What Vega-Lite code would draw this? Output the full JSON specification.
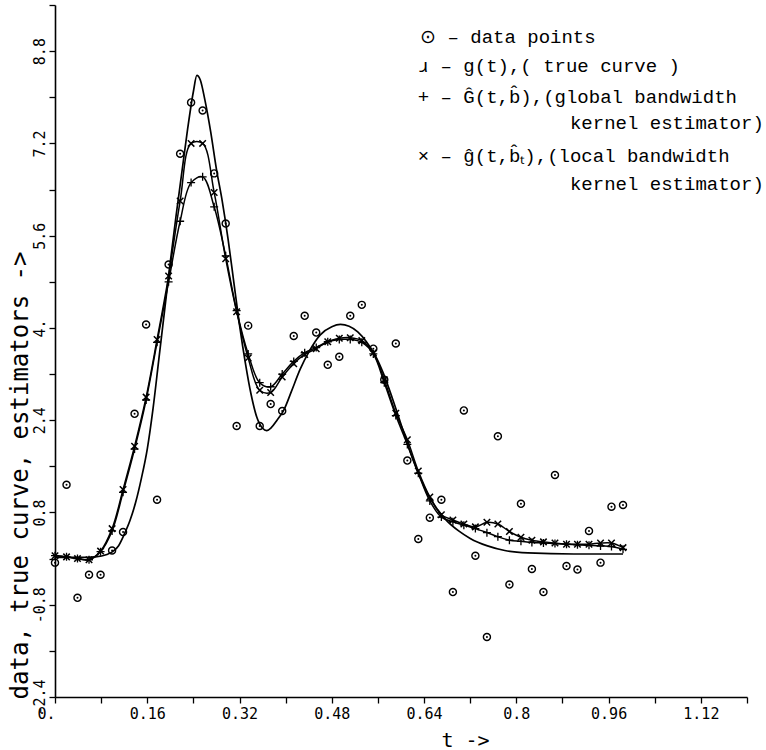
{
  "$schema": "https://vega.github.io/schema/vega-lite/v6.json",
  "width": 692,
  "height": 692,
  "autosize": {"type": "none"},
  "padding": {"left": 55, "top": 5, "right": 19, "bottom": 53},
  "background": "white",
  "config": {"view": {"stroke": null}},
  "datasets": {
    "grid": [
      {"t": 0, "obs": -0.07, "glob": 0.05, "loc": 0.05},
      {"t": 0.020, "obs": 1.28, "glob": 0.03, "loc": 0.03},
      {"t": 0.039, "obs": -0.68, "glob": 0.0, "loc": 0.0},
      {"t": 0.059, "obs": -0.28, "glob": -0.02, "loc": -0.02},
      {"t": 0.079, "obs": -0.28, "glob": 0.12, "loc": 0.13},
      {"t": 0.099, "obs": 0.14, "glob": 0.48, "loc": 0.52},
      {"t": 0.118, "obs": 0.46, "glob": 1.15, "loc": 1.2},
      {"t": 0.138, "obs": 2.51, "glob": 1.9, "loc": 1.95},
      {"t": 0.158, "obs": 4.06, "glob": 2.75, "loc": 2.8},
      {"t": 0.177, "obs": 1.02, "glob": 3.75, "loc": 3.8},
      {"t": 0.197, "obs": 5.1, "glob": 4.8, "loc": 4.9},
      {"t": 0.217, "obs": 7.02, "glob": 5.85, "loc": 6.2},
      {"t": 0.236, "obs": 7.91, "glob": 6.52, "loc": 7.2},
      {"t": 0.256, "obs": 7.77, "glob": 6.62, "loc": 7.2},
      {"t": 0.276, "obs": 6.68, "glob": 6.1, "loc": 6.35},
      {"t": 0.296, "obs": 5.81, "glob": 5.25, "loc": 5.2},
      {"t": 0.315, "obs": 2.3, "glob": 4.3, "loc": 4.28},
      {"t": 0.335, "obs": 4.04, "glob": 3.55, "loc": 3.48},
      {"t": 0.355, "obs": 2.3, "glob": 3.05, "loc": 2.92},
      {"t": 0.374, "obs": 2.68, "glob": 2.98, "loc": 2.88},
      {"t": 0.394, "obs": 2.56, "glob": 3.2, "loc": 3.15},
      {"t": 0.414, "obs": 3.86, "glob": 3.42, "loc": 3.38},
      {"t": 0.433, "obs": 4.21, "glob": 3.57, "loc": 3.54},
      {"t": 0.453, "obs": 3.92, "glob": 3.66, "loc": 3.64},
      {"t": 0.473, "obs": 3.36, "glob": 3.76, "loc": 3.76},
      {"t": 0.493, "obs": 3.5, "glob": 3.8, "loc": 3.82},
      {"t": 0.512, "obs": 4.21, "glob": 3.8, "loc": 3.83},
      {"t": 0.532, "obs": 4.4, "glob": 3.75, "loc": 3.78},
      {"t": 0.552, "obs": 3.64, "glob": 3.55, "loc": 3.57},
      {"t": 0.571, "obs": 3.1, "glob": 3.05, "loc": 3.1},
      {"t": 0.591, "obs": 3.73, "glob": 2.48, "loc": 2.52},
      {"t": 0.611, "obs": 1.7, "glob": 1.98, "loc": 2.06},
      {"t": 0.630, "obs": 0.34, "glob": 1.48, "loc": 1.52},
      {"t": 0.650, "obs": 0.71, "glob": 1.0, "loc": 1.07},
      {"t": 0.670, "obs": 1.02, "glob": 0.72, "loc": 0.76},
      {"t": 0.690, "obs": -0.58, "glob": 0.64, "loc": 0.67},
      {"t": 0.709, "obs": 2.57, "glob": 0.58, "loc": 0.6},
      {"t": 0.729, "obs": 0.05, "glob": 0.52, "loc": 0.55},
      {"t": 0.749, "obs": -1.36, "glob": 0.45, "loc": 0.63},
      {"t": 0.768, "obs": 2.12, "glob": 0.38, "loc": 0.6},
      {"t": 0.788, "obs": -0.45, "glob": 0.32, "loc": 0.47},
      {"t": 0.808, "obs": 0.95, "glob": 0.3, "loc": 0.37},
      {"t": 0.827, "obs": -0.18, "glob": 0.28, "loc": 0.32},
      {"t": 0.847, "obs": -0.58, "glob": 0.27, "loc": 0.29},
      {"t": 0.867, "obs": 1.45, "glob": 0.26, "loc": 0.27},
      {"t": 0.887, "obs": -0.13, "glob": 0.25, "loc": 0.25},
      {"t": 0.906, "obs": -0.19, "glob": 0.24, "loc": 0.25},
      {"t": 0.926, "obs": 0.48, "glob": 0.23, "loc": 0.25},
      {"t": 0.946, "obs": -0.07, "glob": 0.22, "loc": 0.27},
      {"t": 0.965, "obs": 0.9, "glob": 0.21, "loc": 0.27},
      {"t": 0.985, "obs": 0.93, "glob": 0.16, "loc": 0.19}
    ],
    "truth": [
      {"t": 0, "g": 0.02}, {"t": 0.04, "g": 0.02}, {"t": 0.07, "g": 0.03},
      {"t": 0.09, "g": 0.07}, {"t": 0.1, "g": 0.12}, {"t": 0.11, "g": 0.22},
      {"t": 0.12, "g": 0.42}, {"t": 0.13, "g": 0.66}, {"t": 0.14, "g": 0.98},
      {"t": 0.15, "g": 1.4}, {"t": 0.16, "g": 1.9}, {"t": 0.17, "g": 2.6},
      {"t": 0.18, "g": 3.45}, {"t": 0.19, "g": 4.3}, {"t": 0.2, "g": 5.15},
      {"t": 0.21, "g": 5.95}, {"t": 0.22, "g": 6.7}, {"t": 0.23, "g": 7.45},
      {"t": 0.24, "g": 8.1}, {"t": 0.246, "g": 8.38}, {"t": 0.252, "g": 8.3},
      {"t": 0.26, "g": 7.95}, {"t": 0.27, "g": 7.4}, {"t": 0.28, "g": 6.75},
      {"t": 0.29, "g": 6.2}, {"t": 0.3, "g": 5.55}, {"t": 0.31, "g": 4.8},
      {"t": 0.32, "g": 4.05}, {"t": 0.33, "g": 3.4}, {"t": 0.34, "g": 2.85},
      {"t": 0.35, "g": 2.45}, {"t": 0.36, "g": 2.26}, {"t": 0.367, "g": 2.22},
      {"t": 0.375, "g": 2.27}, {"t": 0.385, "g": 2.4}, {"t": 0.397, "g": 2.58},
      {"t": 0.41, "g": 2.9}, {"t": 0.425, "g": 3.28}, {"t": 0.44, "g": 3.58},
      {"t": 0.46, "g": 3.88}, {"t": 0.48, "g": 4.02}, {"t": 0.495, "g": 4.06},
      {"t": 0.51, "g": 4.03}, {"t": 0.525, "g": 3.93}, {"t": 0.54, "g": 3.76},
      {"t": 0.555, "g": 3.53}, {"t": 0.57, "g": 3.2}, {"t": 0.585, "g": 2.78},
      {"t": 0.6, "g": 2.33}, {"t": 0.615, "g": 1.88}, {"t": 0.63, "g": 1.48},
      {"t": 0.645, "g": 1.15}, {"t": 0.66, "g": 0.9}, {"t": 0.68, "g": 0.65},
      {"t": 0.7, "g": 0.48}, {"t": 0.72, "g": 0.35}, {"t": 0.75, "g": 0.22},
      {"t": 0.78, "g": 0.14}, {"t": 0.82, "g": 0.1}, {"t": 0.9, "g": 0.08},
      {"t": 0.985, "g": 0.08}
    ],
    "legend": [
      {"t": 0.633, "v": 9.04, "label": "⊙ – data points"},
      {"t": 0.629, "v": 8.55, "label": "ɹ – g(t),( true curve )"},
      {"t": 0.629, "v": 8.01, "label": "+ – Ĝ(t,b̂),(global bandwidth"},
      {"t": 0.893, "v": 7.55, "label": "kernel estimator)"},
      {"t": 0.629, "v": 6.99, "label": "× – ĝ(t,b̂ₜ),(local bandwidth"},
      {"t": 0.893, "v": 6.50, "label": "kernel estimator)"}
    ]
  },
  "encoding": {
    "x": {
      "field": "t", "type": "quantitative",
      "scale": {"domain": [0, 1.2], "nice": false, "zero": false},
      "axis": {
        "values": [0, 0.08, 0.16, 0.24, 0.32, 0.4, 0.48, 0.56, 0.64, 0.72, 0.8, 0.88, 0.96, 1.04, 1.12, 1.2],
        "labelExpr": "(round(datum.value / 0.08) % 2 == 0 && datum.value < 1.15) ? (datum.value == 0 ? '0.' : format(datum.value, '.2~f')) : ''",
        "labelAlign": {"condition": {"test": "datum.value == 0", "value": "right"}, "value": "center"},
        "title": "t ->",
        "titleX": 410, "titleY": 43, "titleAlign": "center", "titleBaseline": "middle",
        "titleFont": "DejaVu Sans Mono", "titleFontSize": 20, "titleFontWeight": "normal", "titleColor": "black",
        "domainColor": "black", "domainWidth": 1.6,
        "tickColor": "black", "tickWidth": 1.3, "tickSize": 6,
        "labelFont": "DejaVu Sans Mono", "labelFontSize": 15, "labelColor": "black", "labelPadding": 3,
        "labelFlush": false, "labelOverlap": false, "labelBound": false, "grid": false
      }
    }
  },
  "layer": [
    {
      "data": {"name": "truth"},
      "mark": {"type": "line", "interpolate": "monotone", "color": "black", "strokeWidth": 1.7},
      "encoding": {
        "y": {
          "field": "g", "type": "quantitative",
          "scale": {"domain": [-2.4, 9.6], "nice": false, "zero": false},
          "axis": {
            "values": [-2.4, -1.6, -0.8, 0, 0.8, 1.6, 2.4, 3.2, 4, 4.8, 5.6, 6.4, 7.2, 8, 8.8, 9.6],
            "labelExpr": "round((datum.value + 2.4) / 0.8) % 2 == 0 ? (abs(datum.value - 4) < 0.01 ? '4.' : replace(format(datum.value, '.1f'), '\u2212', '-')) : ''",
            "labelAngle": -90, "labelAlign": "center", "labelBaseline": "bottom",
            "title": "data, true curve, estimators ->",
            "titleX": -35, "titleY": 470, "titleAngle": -90, "titleAlign": "center", "titleBaseline": "middle",
            "titleFont": "DejaVu Sans Mono", "titleFontSize": 24, "titleFontWeight": "normal", "titleColor": "black",
            "domainColor": "black", "domainWidth": 1.6,
            "tickColor": "black", "tickWidth": 1.3, "tickSize": 6,
            "labelFont": "DejaVu Sans Mono", "labelFontSize": 15, "labelColor": "black", "labelPadding": 2,
            "labelFlush": false, "labelOverlap": false, "labelBound": false, "grid": false
          }
        }
      }
    },
    {
      "data": {"name": "grid"},
      "mark": {"type": "line", "interpolate": "catmull-rom", "color": "black", "strokeWidth": 1.5},
      "encoding": {"y": {"field": "glob", "type": "quantitative"}}
    },
    {
      "data": {"name": "grid"},
      "mark": {"type": "line", "interpolate": "catmull-rom", "color": "black", "strokeWidth": 1.5},
      "encoding": {"y": {"field": "loc", "type": "quantitative"}}
    },
    {
      "data": {"name": "grid"},
      "mark": {"type": "point", "shape": "M-1,0L1,0M0,-1L0,1", "size": 64, "filled": false, "color": "black", "strokeWidth": 1.3, "opacity": 1},
      "encoding": {"y": {"field": "glob", "type": "quantitative"}}
    },
    {
      "data": {"name": "grid"},
      "mark": {"type": "point", "shape": "M-1,-1L1,1M-1,1L1,-1", "size": 42, "filled": false, "color": "black", "strokeWidth": 1.5, "opacity": 1},
      "encoding": {"y": {"field": "loc", "type": "quantitative"}}
    },
    {
      "data": {"name": "grid"},
      "mark": {"type": "point", "shape": "circle", "size": 50, "filled": false, "color": "black", "strokeWidth": 1.4, "opacity": 1},
      "encoding": {"y": {"field": "obs", "type": "quantitative"}}
    },
    {
      "data": {"name": "grid"},
      "mark": {"type": "point", "shape": "circle", "size": 4, "filled": true, "color": "black", "opacity": 1},
      "encoding": {"y": {"field": "obs", "type": "quantitative"}}
    },
    {
      "data": {"name": "legend"},
      "mark": {"type": "text", "font": "Liberation Mono", "fontSize": 19, "align": "left", "baseline": "middle", "color": "black"},
      "encoding": {
        "y": {"field": "v", "type": "quantitative"},
        "text": {"field": "label"}
      }
    }
  ]
}
